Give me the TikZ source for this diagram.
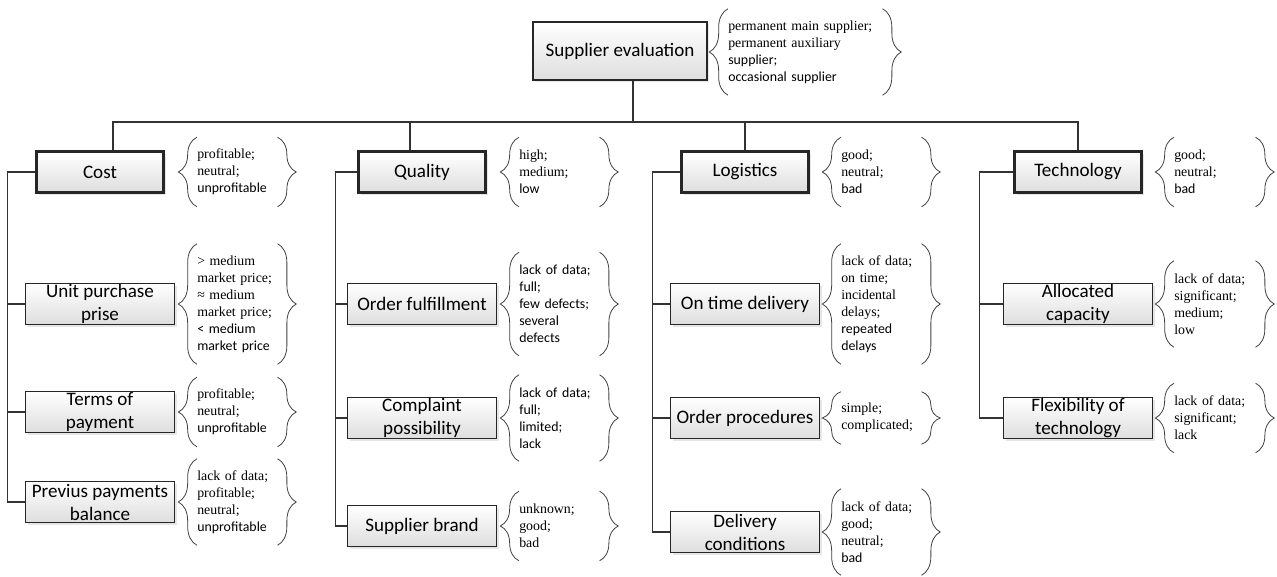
\documentclass[tikz,border=0pt]{standalone}
\usepackage{fontspec}
\setmainfont{Liberation Serif}
\setsansfont{Carlito}
\usepackage{tikz}
\usetikzlibrary{decorations.pathreplacing,shadows}

\begin{document}
\begin{tikzpicture}[x=0.75pt, y=-0.75pt, node distance=81pt,
  tile/.style={draw=black!85, rectangle, align=center, inner xsep=2pt, inner ysep=0pt, top color=white, bottom color=black!13, font=\sffamily\fontsize{14.3}{17.25}\selectfont, drop shadow={shadow xshift=1.5pt, shadow yshift=-1.5pt, opacity=0.2}},
  crit/.style={tile, line width=2pt, minimum width=95.25pt, minimum height=30.75pt},
  sub/.style={tile, line width=0.9pt, minimum width=111.75pt, minimum height=30.75pt},
  curly/.style={decorate, decoration={brace, amplitude=14pt}, draw=black!75, line width=0.6pt},
  vals/.style={anchor=west, align=left, text width=60pt, inner sep=0pt, minimum height=#1*12.75pt+13.5pt, font=\fontsize{10.4}{12.75}\selectfont, append after command={(\tikzlastnode.south west) edge[curly] (\tikzlastnode.north west) (\tikzlastnode.north east) edge[curly] (\tikzlastnode.south east)}},
  link/.style={draw=black!80, line width=1pt}]
\useasboundingbox (0,0) rectangle (1277,576);
% Supplier evaluation
\node[crit, minimum width=130.5pt, minimum height=43.5pt] (root) at (620,51) {Supplier evaluation};
\node[vals=4, text width=115.5pt] (root-val) at (728,52) {permanent main supplier;\\permanent auxiliary\\\sffamily supplier;\\occasional supplier};
\coordinate (bus) at (633,122);
\coordinate (cost-col) at (197,0);
\coordinate (quality-col) at (519,0);
\coordinate (logistics-col) at (841,0);
\coordinate (technology-col) at (1174,0);
% Cost
\node[crit] (cost) at (100,172) {Cost};
\node[vals=3] (cost-val) at (cost.east -| cost-col) {profitable;\\neutral;\\\sffamily unprofitable};
\node[sub, below of=cost, yshift=-18pt] (unit-price) {Unit purchase\\prise};
\node[vals=6] (unit-price-val) at (unit-price.east -| cost-col) {>~medium\\market price;\\≈~medium\\market price;\\\sffamily <~medium\\market price};
\node[sub, below of=unit-price] (payment-terms) {Terms of\\payment};
\node[vals=3] (payment-terms-val) at (payment-terms.east -| cost-col) {profitable;\\neutral;\\\sffamily unprofitable};
\node[sub, below of=payment-terms, yshift=13.5pt] (payment-balance) {Previus payments\\balance};
\node[vals=4] (payment-balance-val) at (payment-balance.east -| cost-col) {lack of data;\\profitable;\\neutral;\\\sffamily unprofitable};
% Quality
\node[crit] (quality) at (422,172) {Quality};
\node[vals=3] (quality-val) at (quality.east -| quality-col) {high;\\medium;\\\sffamily low};
\node[sub, below of=quality, yshift=-18pt] (order-fulfil) {Order fulfillment};
\node[vals=5] (order-fulfil-val) at (order-fulfil.east -| quality-col) {\sffamily lack of data;\\full;\\few defects;\\several\\defects};
\node[sub, below of=order-fulfil, yshift=-4.5pt] (complaint) {Complaint\\possibility};
\node[vals=4] (complaint-val) at (complaint.east -| quality-col) {\sffamily lack of data;\\full;\\limited;\\lack};
\node[sub, below of=complaint] (brand) {Supplier brand};
\node[vals=3] (brand-val) at (brand.east -| quality-col) {unknown;\\good;\\bad};
% Logistics
\node[crit] (logistics) at (745,172) {Logistics};
\node[vals=3] (logistics-val) at (logistics.east -| logistics-col) {good;\\neutral;\\\sffamily bad};
\node[sub, below of=logistics, yshift=-18pt] (on-time) {On time delivery};
\node[vals=6] (on-time-val) at (on-time.east -| logistics-col) {lack of data;\\on time;\\incidental\\delays;\\\sffamily repeated\\delays};
\node[sub, below of=on-time, yshift=-4.5pt] (order-proc) {Order procedures};
\node[vals=2] (order-proc-val) at (order-proc.east -| logistics-col) {simple;\\complicated;};
\node[sub, below of=order-proc, yshift=-4.5pt] (delivery) {Delivery\\conditions};
\node[vals=4] (delivery-val) at (delivery.east -| logistics-col) {lack of data;\\good;\\neutral;\\\sffamily bad};
% Technology
\node[crit] (technology) at (1078,172) {Technology};
\node[vals=3, text width=60.75pt] (technology-val) at (technology.east -| technology-col) {good;\\neutral;\\\sffamily bad};
\node[sub, below of=technology, yshift=-18pt] (capacity) {Allocated\\capacity};
\node[vals=4, text width=60.75pt] (capacity-val) at (capacity.east -| technology-col) {lack of data;\\significant;\\medium;\\low};
\node[sub, below of=capacity, yshift=-4.5pt] (flexibility) {Flexibility of\\technology};
\node[vals=3, text width=60.75pt] (flexibility-val) at (flexibility.east -| technology-col) {lack of data;\\significant;\\lack};
% Links
\draw[link] ([xshift=9.75pt]root.south) -- (bus);
\draw[link] ([xshift=9.75pt]cost.north) |- (bus) -| (technology.north);
\draw[link] ([xshift=-9pt]quality.north) -- ([xshift=-9pt]quality.north |- bus);
\draw[link] (logistics.north) -- (logistics.north |- bus);
\draw[link] (cost.west) -- ++(-28,0) coordinate (cost-spine) |- (payment-balance.west);
\draw[link] (unit-price.west) -- (unit-price.west -| cost-spine);
\draw[link] (payment-terms.west) -- (payment-terms.west -| cost-spine);
\draw[link] (quality.west) -- ++(-22,0) coordinate (quality-spine) |- (brand.west);
\draw[link] (order-fulfil.west) -- (order-fulfil.west -| quality-spine);
\draw[link] (complaint.west) -- (complaint.west -| quality-spine);
\draw[link] (logistics.west) -- ++(-28,0) coordinate (logistics-spine) |- (delivery.west);
\draw[link] (on-time.west) -- (on-time.west -| logistics-spine);
\draw[link] (order-proc.west) -- (order-proc.west -| logistics-spine);
\draw[link] (technology.west) -- ++(-34,0) coordinate (technology-spine) |- (flexibility.west);
\draw[link] (capacity.west) -- (capacity.west -| technology-spine);
\end{tikzpicture}
\end{document}
